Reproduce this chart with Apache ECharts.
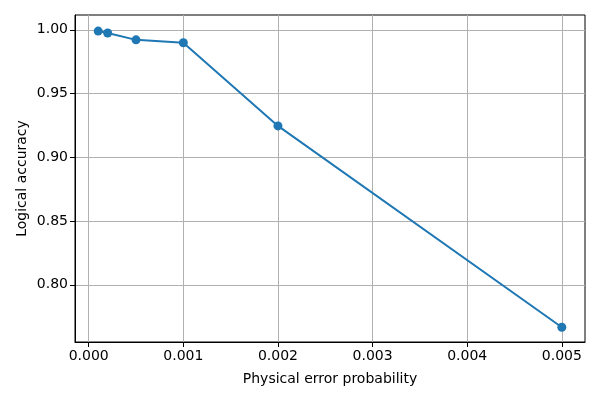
<!DOCTYPE html>
<html>
<head>
<meta charset="utf-8">
<script src="https://cdn.jsdelivr.net/npm/echarts@6/dist/echarts.min.js"></script>
<style>
  html, body { margin: 0; padding: 0; background: #fff; }
  #chart { width: 600px; height: 400px; }
</style>
</head>
<body>
<div id="chart"></div>
<script>
// data
const errorProb = [0.0001, 0.0002, 0.0005, 0.001, 0.002, 0.005]
const accuracy = [0.9990, 0.9975, 0.9921, 0.9898, 0.9246, 0.7667]
const xTicks = [0.000, 0.001, 0.002, 0.003, 0.004, 0.005]
const yTicks = [0.80, 0.85, 0.90, 0.95, 1.00]

const font = 'DejaVu Sans'
const gridLine = { show: true, lineStyle: { color: '#b0b0b0', width: 1 } }
const tick = { show: true, inside: false, length: 5, lineStyle: { color: '#000' } }

const chart = echarts.init(document.getElementById('chart'))
chart.setOption({
  animation: false,
  grid: {
    left: 75, right: 15, top: 15, bottom: 58,
    show: true, borderColor: '#000', borderWidth: 1
  },
  xAxis: {
    type: 'value',
    min: -0.000145,
    max: 0.005245,
    name: 'Physical error probability',
    nameLocation: 'middle',
    nameGap: 30,
    nameTextStyle: { fontFamily: font, fontSize: 14, color: '#000' },
    axisLine: { show: true, onZero: false, lineStyle: { color: '#000' } },
    axisTick: Object.assign({ customValues: xTicks }, tick),
    axisLabel: {
      customValues: xTicks,
      fontFamily: font, fontSize: 14, color: '#000', margin: 7,
      formatter: v => v.toFixed(3)
    },
    splitLine: gridLine
  },
  yAxis: {
    type: 'value',
    min: 0.7551,
    max: 1.0116,
    name: 'Logical accuracy',
    nameLocation: 'middle',
    nameGap: 46,
    nameMoveOverlap: false,
    nameTextStyle: { fontFamily: font, fontSize: 14, color: '#000' },
    axisLine: { show: true, onZero: false, lineStyle: { color: '#000' } },
    axisTick: Object.assign({ customValues: yTicks }, tick),
    axisLabel: {
      customValues: yTicks,
      fontFamily: font, fontSize: 14, color: '#000', margin: 7,
      formatter: v => v.toFixed(2)
    },
    splitLine: gridLine
  },
  series: [
    {
      type: 'line',
      data: errorProb.map((x, i) => [x, accuracy[i]]),
      symbol: 'circle',
      symbolSize: 9,
      itemStyle: { color: '#1f77b4' },
      lineStyle: { color: '#1f77b4', width: 2 }
    }
  ]
})
</script>
</body>
</html>
